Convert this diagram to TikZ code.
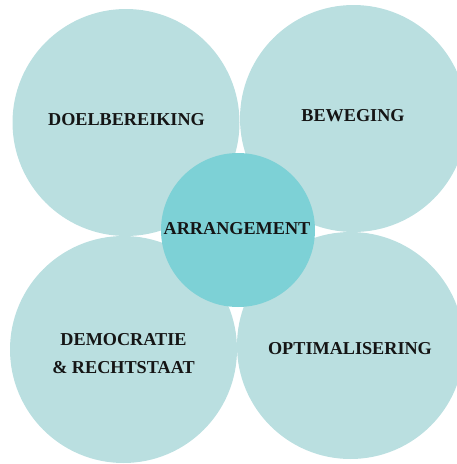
\documentclass[tikz,border=0pt]{standalone}
\usepackage{fontspec}
\setmainfont{Liberation Serif}
\definecolor{petal}{HTML}{BADFE0}
\definecolor{core}{HTML}{7DD1D6}
\definecolor{ink}{HTML}{151515}
\begin{document}
\begin{tikzpicture}[x=1pt,y=-1pt,
  petalnode/.style={circle,fill=petal,minimum size=227pt,inner sep=0pt},
  corenode/.style={circle,fill=core,minimum size=154pt,inner sep=0pt},
  lbl/.style={text=ink,font=\fontsize{18.2}{28}\selectfont\bfseries,align=center}]
\useasboundingbox (0,0) rectangle (457,464);
\clip (0,0) rectangle (457,464);
\node[petalnode] (tl) at (126,122.5) {};
\node[petalnode] (tr) at (353.5,118.5) {};
\node[petalnode] (bl) at (123.5,349.5) {};
\node[petalnode] (br) at (350.5,345.5) {};
\node[corenode] (c) at (238,230) {};
\node[lbl] (ttl) at (126.5,119.5) {DOELBEREIKING};
\node[lbl] (ttr) at (353,115.5) {BEWEGING};
\node[lbl] (tbl) at (123.5,353.5) {DEMOCRATIE\\\& RECHTSTAAT};
\node[lbl] (tbr) at (350,348.5) {OPTIMALISERING};
\node[lbl] (tc) at (237,228.5) {ARRANGEMENT};
\end{tikzpicture}
\end{document}
